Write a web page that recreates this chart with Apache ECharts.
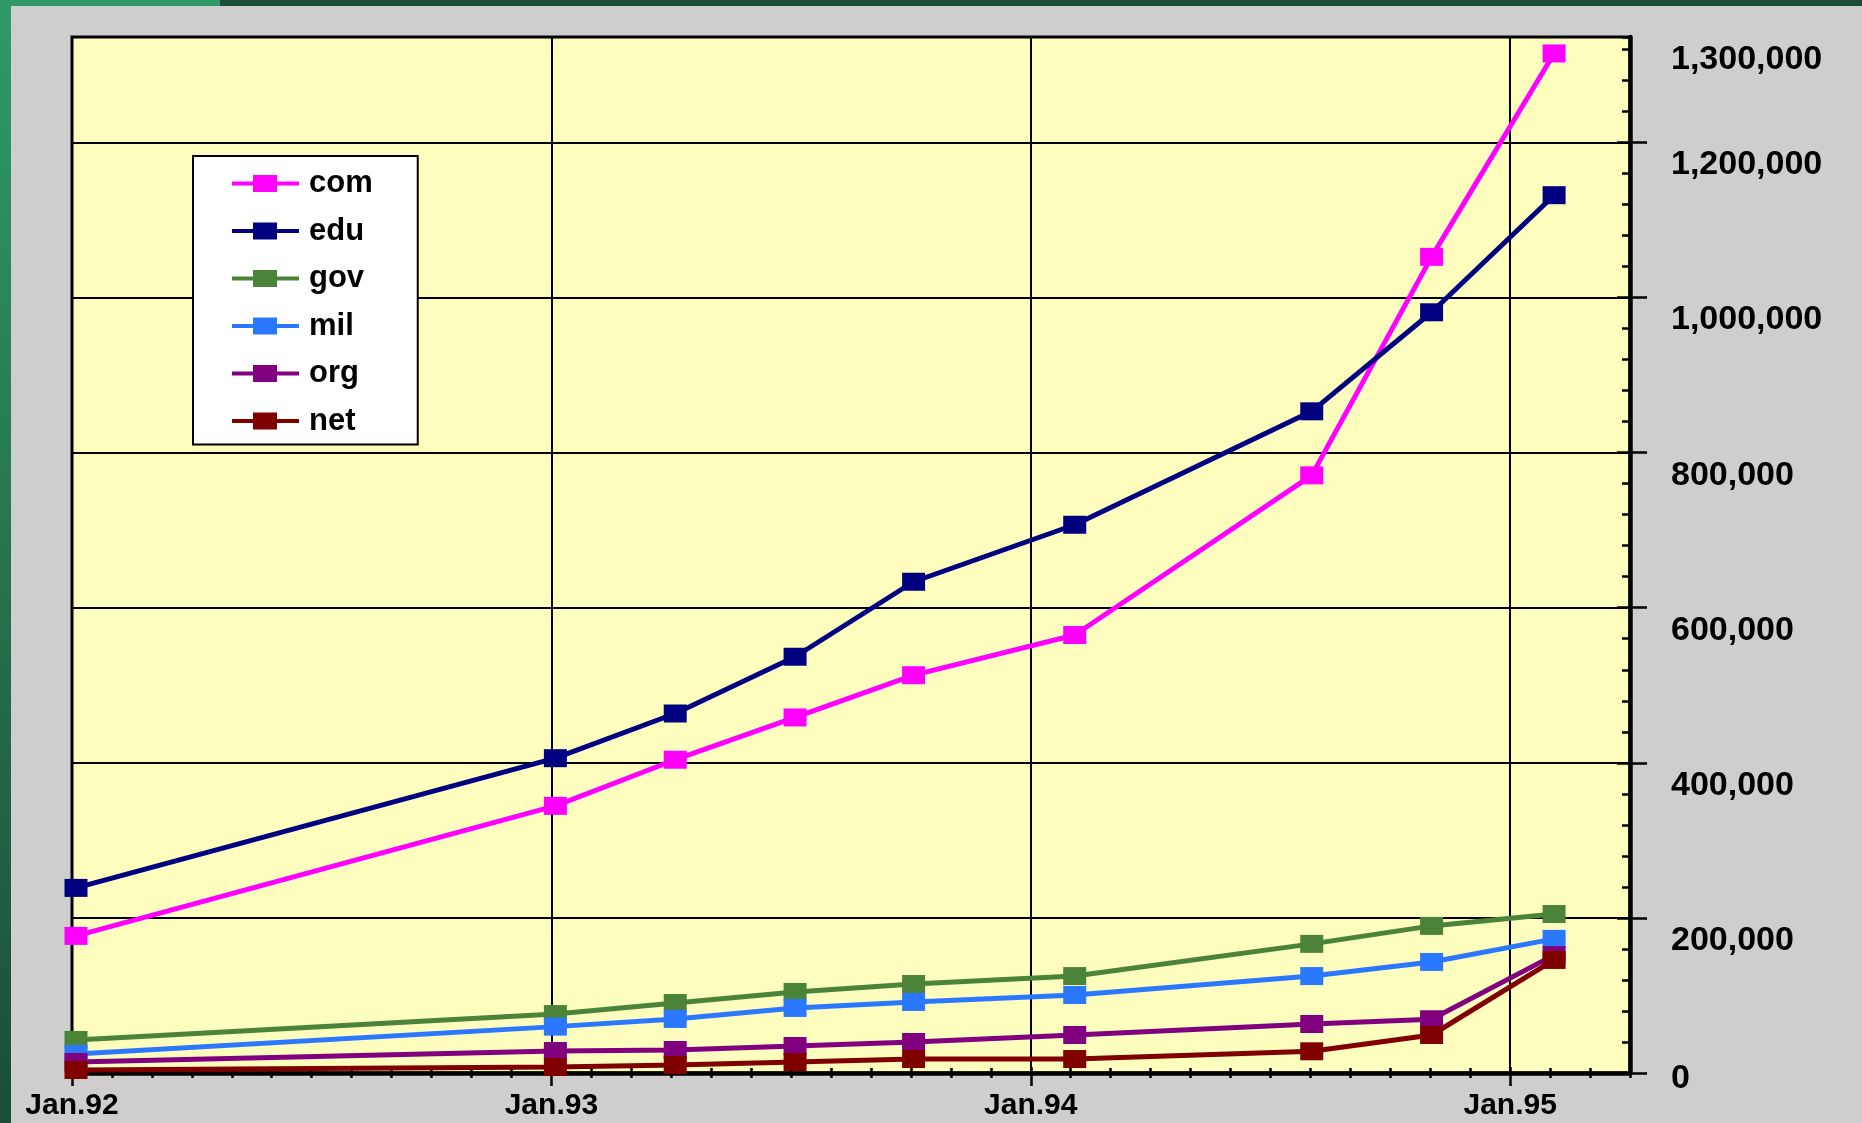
<!DOCTYPE html>
<html>
<head>
<meta charset="utf-8">
<script src="https://cdn.jsdelivr.net/npm/echarts@6/dist/echarts.min.js"></script>
<style>
  html, body { margin: 0; padding: 0; background: #cecece; }
  #chart { width: 1862px; height: 1123px; }
</style>
</head>
<body>
<div id="chart"></div>
<script>
// 数据
//-----

// survey dates, as placed on the chart
var surveyDates = ['1992-01-04', '1993-01-04', '1993-04-04', '1993-07-04', '1993-10-03',
                   '1994-02-04', '1994-08-02', '1994-11-02', '1995-02-04'];

var seriesNames = ['com', 'edu', 'gov', 'mil', 'org', 'net'];

var comHosts = [176800, 344500, 404000, 458500, 513000, 564800, 770700, 1052500, 1314800];
var eduHosts = [238700, 406000, 463600, 536800, 633500, 707000, 853300, 981000, 1132000];
var govHosts = [42600, 76000, 90300, 104500, 114800, 125000, 166500, 189700, 205000];
var milHosts = [24500, 59800, 69700, 83900, 91600, 100600, 125000, 143200, 173000];
var orgHosts = [14200, 28400, 29700, 34800, 40000, 49000, 63200, 69300, 152000];
var netHosts = [3900, 7700, 10300, 14200, 18000, 18000, 28000, 49000, 145800];

// tick labels
var xTickMonths = [0, 12, 24, 36];
var xTickLabels = ['Jan.92', 'Jan.93', 'Jan.94', 'Jan.95'];
var yTickValues = [0, 200000, 400000, 600000, 800000, 1000000, 1200000, 1336000];
var yTickLabels = ['0', '200,000', '400,000', '600,000', '800,000', '1,000,000', '1,200,000', '1,300,000'];

var colors = ['#ff00ff', '#000080', '#4b8438', '#2b78ff', '#800080', '#800000'];

// 月份换算 (months since Jan 1992)
function toMonth(s) {
  var p = s.split('-');
  return (parseInt(p[0], 10) - 1992) * 12 + (parseInt(p[1], 10) - 1) + (parseInt(p[2], 10) - 1) / 30;
}

function pairs(values) {
  return values.map(function(v, i) { return [toMonth(surveyDates[i]), v]; });
}

var allValues = [comHosts, eduHosts, govHosts, milHosts, orgHosts, netHosts];

var FONT = '"Liberation Sans", Arial, Helvetica, sans-serif';
var Y_MAX = 1336000;
var X_MAX = 39;
// legend icon: line with a block in the middle (67 x 17)
var LEGEND_ICON = 'path://M0,6.5L21,6.5L21,0L45,0L45,6.5L67,6.5L67,10.5L45,10.5L45,17L21,17L21,10.5L0,10.5Z';

// 画图
//-----
var myChart = echarts.init(document.getElementById('chart'));

var series = seriesNames.map(function(name, i) {
  return {
    name: name,
    type: 'line',
    xAxisIndex: 0,
    yAxisIndex: 0,
    data: pairs(allValues[i]),
    symbol: 'rect',
    symbolSize: [23, 18],
    clip: false,
    lineStyle: { width: 5, color: colors[i] },
    itemStyle: { color: colors[i] },
    emphasis: { disabled: true }
  };
});

var gridBox = { left: 72, right: 232, top: 37, bottom: 50, outerBoundsMode: 'none' };

// 只显示刻度的坐标轴
function tickAxis(extra) {
  var a = {
    type: 'value',
    axisLine: { show: false, onZero: false },
    axisLabel: { show: false },
    splitLine: { show: false }
  };
  for (var k in extra) a[k] = extra[k];
  return a;
}

var option = {
  animation: false,
  backgroundColor: '#cecece',
  graphic: [
    {
      type: 'rect', z: -10, silent: true,
      shape: { x: 0, y: 0, width: 11, height: 1123 },
      style: {
        fill: new echarts.graphic.LinearGradient(0, 0, 0, 1, [
          { offset: 0, color: '#2f9a67' },
          { offset: 1, color: '#1b4d38' }
        ])
      }
    },
    { type: 'rect', z: -10, silent: true, shape: { x: 0, y: 0, width: 220, height: 6 }, style: { fill: '#2f9a67' } },
    { type: 'rect', z: -10, silent: true, shape: { x: 220, y: 0, width: 1642, height: 6 }, style: { fill: '#1b4d38' } }
  ],
  grid: [
    {
      left: 72, right: 232, top: 37, bottom: 50, outerBoundsMode: 'none',
      show: true,
      backgroundColor: '#fdfdbd',
      borderColor: '#000',
      borderWidth: 3
    },
    gridBox,
    gridBox
  ],
  legend: {
    data: seriesNames,
    orient: 'vertical',
    left: 193,
    top: 156,
    padding: [12, 45, 8, 39],
    backgroundColor: '#fff',
    borderColor: '#000',
    borderWidth: 2,
    icon: LEGEND_ICON,
    itemWidth: 67,
    itemHeight: 17,
    itemGap: 16.5,
    selectedMode: false,
    textStyle: { fontFamily: FONT, fontSize: 31, fontWeight: 'bold', color: '#000', padding: [0, 0, 0, 5] }
  },
  xAxis: [
    {
      type: 'value', position: 'bottom', gridIndex: 0,
      min: 0, max: X_MAX, interval: 12,
      axisLine: { show: true, onZero: false, lineStyle: { color: '#000', width: 4.5 } },
      axisTick: { show: false },
      splitLine: { show: true, lineStyle: { color: '#000', width: 2 } },
      axisLabel: {
        customValues: xTickMonths,
        margin: 18,
        fontFamily: FONT, fontSize: 30, fontWeight: 'bold', color: '#000',
        formatter: function(v) {
          var k = xTickMonths.indexOf(v);
          return k >= 0 ? xTickLabels[k] : '';
        }
      }
    },
    // year ticks crossing the axis
    tickAxis({
      position: 'bottom', gridIndex: 1, offset: 13,
      min: 0, max: X_MAX, interval: 12,
      axisTick: { show: true, inside: true, length: 19, customValues: xTickMonths, lineStyle: { color: '#000', width: 2.5 } }
    }),
    // month ticks
    tickAxis({
      position: 'bottom', gridIndex: 2, offset: 5,
      min: 0, max: X_MAX, interval: 1,
      axisTick: { show: true, inside: true, length: 10, lineStyle: { color: '#000', width: 2.5 } }
    })
  ],
  yAxis: [
    {
      type: 'value', position: 'right', gridIndex: 0,
      min: 0, max: Y_MAX, interval: 200000,
      axisLine: { show: true, onZero: false, lineStyle: { color: '#000', width: 4.5 } },
      axisTick: { show: false },
      splitLine: { show: true, lineStyle: { color: '#000', width: 2 } },
      axisLabel: {
        customValues: yTickValues,
        margin: 41,
        verticalAlign: 'middle',
        formatter: function(v) {
          var k = yTickValues.indexOf(v);
          if (k < 0) return '';
          return v === 0 ? '{z|' + yTickLabels[k] + '}' : '{n|' + yTickLabels[k] + '}';
        },
        rich: {
          n: { fontFamily: FONT, fontSize: 34, fontWeight: 'bold', color: '#000', lineHeight: 36, padding: [45, 0, 0, 0] },
          z: { fontFamily: FONT, fontSize: 34, fontWeight: 'bold', color: '#000', lineHeight: 36, padding: [12, 0, 0, 0] }
        }
      }
    },
    // major ticks crossing the axis
    tickAxis({
      position: 'right', gridIndex: 1, offset: 17,
      min: 0, max: Y_MAX, interval: 200000,
      axisTick: { show: true, inside: true, length: 30, customValues: yTickValues.slice(0, 7), lineStyle: { color: '#000', width: 2.5 } }
    }),
    // minor ticks
    tickAxis({
      position: 'right', gridIndex: 2,
      min: 0, max: Y_MAX, interval: 40000,
      axisTick: { show: true, inside: true, length: 8, lineStyle: { color: '#000', width: 2.5 } }
    })
  ],
  series: series
};

myChart.setOption(option);
</script>
</body>
</html>
